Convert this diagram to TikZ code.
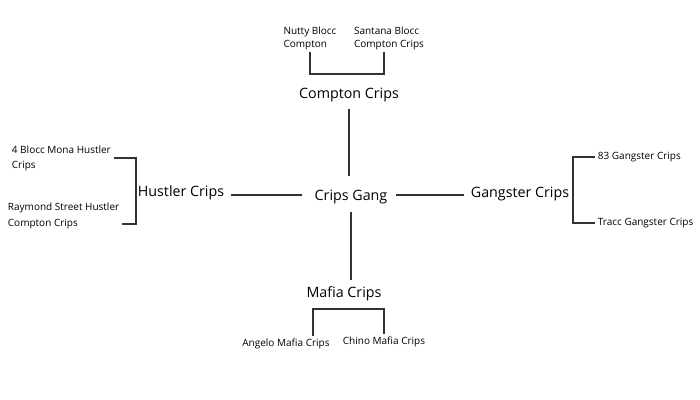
\documentclass[tikz,border=0pt]{standalone}
\usepackage{fontspec}
\setmainfont{Open Sans}
\begin{document}
\begin{tikzpicture}[x=0.75pt, y=-0.75pt,
  gang/.style={font=\fontsize{10.7}{13}\selectfont, inner sep=5pt},
  set/.style={font=\fontsize{7.5}{9.75}\selectfont, align=left, inner sep=2pt},
  link/.style={line width=1.5pt, black!80}]
  \useasboundingbox (0,0) rectangle (700,400);
  % main groups
  \node[gang] (crips) at (351,197) {Crips Gang};
  \node[gang] (compton) at (349,95) {Compton Crips};
  \node[gang] (hustler) at (181,193) {Hustler Crips};
  \node[gang] (gangster) at (520,194) {Gangster Crips};
  \node[gang] (mafia) at (344,294) {Mafia Crips};
  \draw[link, shorten >=5pt] (compton.south) -- (compton.south |- crips.north);
  \draw[link, shorten <=1pt] (crips.south) -- (crips.south |- mafia.north);
  \draw[link, shorten <=4pt] ([yshift=1.5pt]crips.west) -- ([yshift=1.5pt]crips.west -| hustler.east);
  \draw[link, shorten <=1pt] ([yshift=1.5pt]crips.east) -- ([yshift=1.5pt]crips.east -| gangster.west);
  % sets
  \node[set] (nutty) at (310,38) {Nutty Blocc\\Compton};
  \node[set] (santana) at (389,38) {Santana Blocc\\Compton Crips};
  \node[set, anchor=west] (mona) at (9,158) {4 Blocc Mona Hustler\\[1.5pt]Crips};
  \node[set, anchor=west] (raymond) at (5,216) {Raymond Street Hustler\\[2pt]Compton Crips};
  \node[set, anchor=west] (g83) at (595,157) {83 Gangster Crips};
  \node[set, anchor=west] (tracc) at (595,223) {Tracc Gangster Crips};
  \node[set] (angelo) at (286,344) {Angelo Mafia Crips};
  \node[set] (chino) at (384,342) {Chino Mafia Crips};
  \coordinate (cb) at (348,74);
  \coordinate (mb) at (350,309);
  \draw[link] (nutty.south) |- (cb) -| ([xshift=-3.5pt]santana.south);
  \draw[link] (mona.east) -- ++(22,0) |- ([yshift=-6pt]raymond.east);
  \draw[link] (g83.west) -- ++(-22,0) |- (tracc.west);
  \draw[link] ([xshift=20pt]angelo.north) |- (mb) -| (chino.north);
\end{tikzpicture}
\end{document}
